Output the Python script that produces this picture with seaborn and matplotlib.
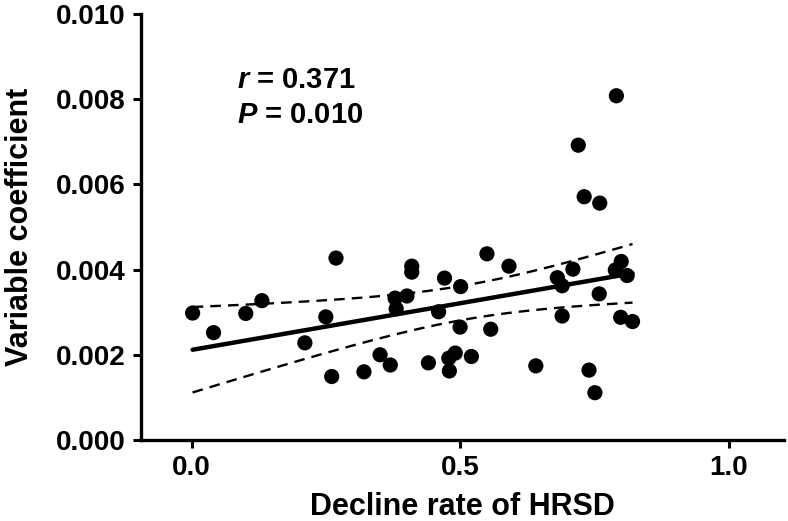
import numpy as np
import pandas as pd
import matplotlib
matplotlib.use("Agg")
import matplotlib.pyplot as plt
import seaborn as sns

# ---- data ----
decline_rate = [0.002, 0.041, 0.101, 0.131, 0.211, 0.250, 0.269, 0.261, 0.321, 0.351,
                0.370, 0.379, 0.401, 0.381, 0.410, 0.410, 0.471, 0.501, 0.460, 0.500,
                0.441, 0.479, 0.491, 0.480, 0.521, 0.550, 0.591, 0.557, 0.641, 0.681,
                0.690, 0.710, 0.759, 0.690, 0.740, 0.751, 0.800, 0.789, 0.811, 0.799,
                0.821, 0.791, 0.720, 0.731, 0.760]
variable_coef = [2.98, 2.52, 2.97, 3.27, 2.28, 2.89, 4.27, 1.49, 1.60, 2.00,
                 1.76, 3.33, 3.38, 3.08, 4.08, 3.94, 3.80, 3.60, 3.01, 2.65,
                 1.81, 1.92, 2.04, 1.62, 1.96, 4.37, 4.08, 2.60, 1.74, 3.81,
                 3.62, 4.01, 3.43, 2.91, 1.64, 1.11, 4.19, 3.99, 3.86, 2.88,
                 2.78, 8.08, 6.92, 5.71, 5.56]
variable_coef = [v / 1000 for v in variable_coef]

x_ticks = [0.0, 0.5, 1.0]
y_ticks = [0.000, 0.002, 0.004, 0.006, 0.008, 0.010]
x_label = "Decline rate of HRSD"
y_label = "Variable coefficient"
stat_r = "0.371"
stat_p = "0.010"

df = pd.DataFrame({"x": decline_rate, "y": variable_coef})

sns.set_style("white")
plt.rcParams["font.family"] = ["Liberation Sans", "DejaVu Sans"]
plt.rcParams["font.weight"] = "bold"
plt.rcParams["text.color"] = "black"
plt.rcParams["axes.labelcolor"] = "black"
plt.rcParams["xtick.color"] = "black"
plt.rcParams["ytick.color"] = "black"
plt.rcParams["mathtext.fontset"] = "custom"
plt.rcParams["mathtext.it"] = "Liberation Sans:italic:bold"
plt.rcParams["mathtext.rm"] = "Liberation Sans:bold"

fig = plt.figure(figsize=(7.88, 5.21), dpi=100)
ax = fig.add_axes([0.1783, 0.1555, 0.8166, 0.8177])

sns.regplot(data=df, x="x", y="y", ax=ax, ci=None, truncate=True,
            scatter_kws=dict(s=120, color="black", edgecolors="none", alpha=1, zorder=3),
            line_kws=dict(color="black", lw=3.2, zorder=2))

# 95% confidence band of regression line (dashed)
xa = np.asarray(decline_rate)
ya = np.asarray(variable_coef)
n = len(xa)
b, a = np.polyfit(xa, ya, 1)
resid = ya - (a + b * xa)
s = np.sqrt(np.sum(resid ** 2) / (n - 2))
sxx = np.sum((xa - xa.mean()) ** 2)
xg = np.linspace(xa.min(), xa.max(), 100)
se = s * np.sqrt(1 / n + (xg - xa.mean()) ** 2 / sxx)
tval = 2.015
yfit = a + b * xg
ax.plot(xg, yfit + tval * se, color="black", lw=1.7, ls=(0, (4.5, 3)), zorder=2)
ax.plot(xg, yfit - tval * se, color="black", lw=1.7, ls=(0, (4.5, 3)), zorder=2)

ax.set_xlim(-0.095, 1.103)
ax.set_ylim(0, 0.010)
ax.set_xticks(x_ticks)
ax.set_xticklabels([f"{t:.1f}" for t in x_ticks])
ax.set_yticks(y_ticks)
ax.set_yticklabels([f"{t:.3f}" for t in y_ticks])

for sp in ["top", "right"]:
    ax.spines[sp].set_visible(False)
for sp in ["left", "bottom"]:
    ax.spines[sp].set_linewidth(2.4)
    ax.spines[sp].set_color("black")

ax.tick_params(axis="both", which="major", direction="out", length=6, width=2.2,
               color="black", labelcolor="black", labelsize=20, pad=5,
               left=True, bottom=True)
for lab in ax.get_xticklabels() + ax.get_yticklabels():
    lab.set_fontweight("bold")

ax.set_xlabel(x_label, fontsize=22, fontweight="bold", labelpad=8, color="black")
ax.set_ylabel(y_label, fontsize=22, fontweight="bold", labelpad=15, color="black")

ax.text(0.084, 0.00826, r"$r$ = " + stat_r, fontsize=21, fontweight="bold",
        ha="left", va="baseline", color="black")
ax.text(0.084, 0.00744, r"$P$ = " + stat_p, fontsize=21, fontweight="bold",
        ha="left", va="baseline", color="black")

fig.savefig("out.png", dpi=100)
